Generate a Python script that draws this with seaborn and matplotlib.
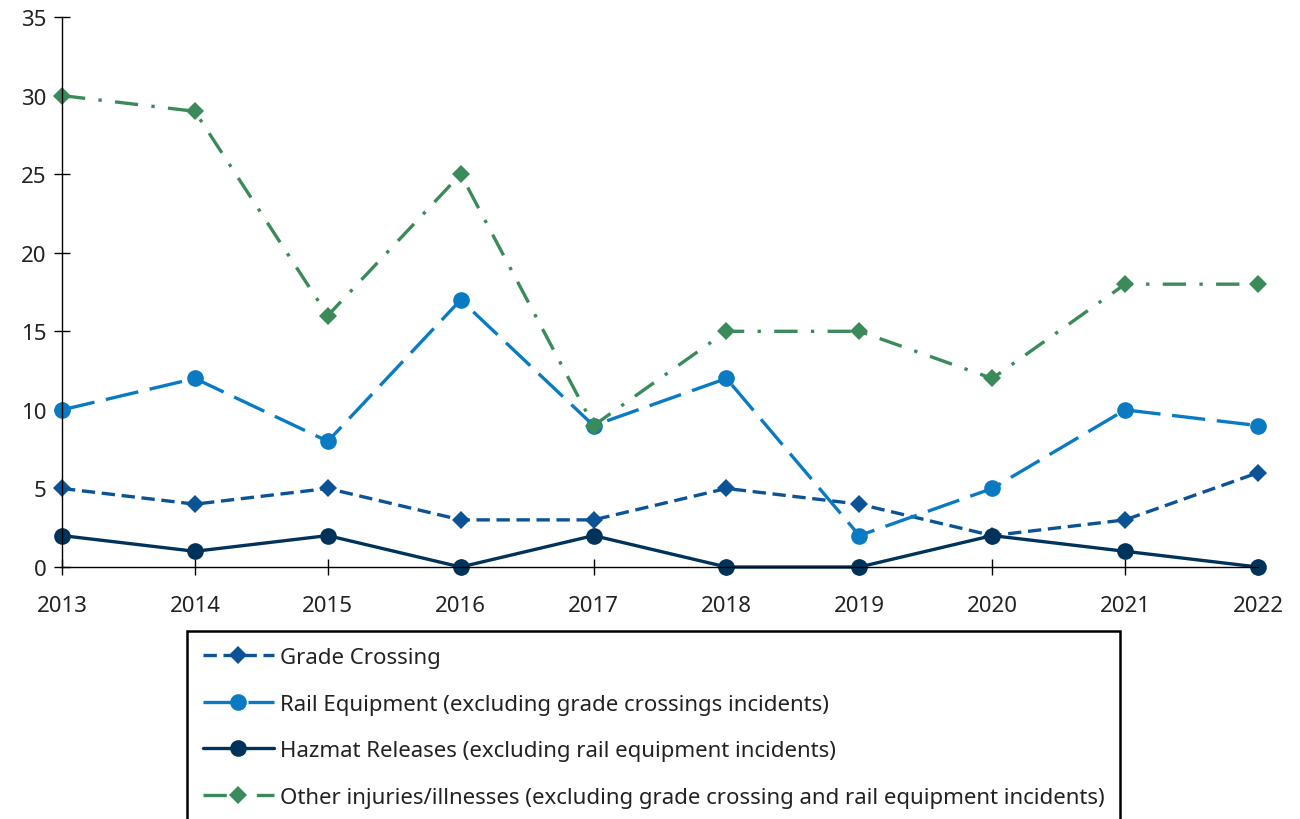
import matplotlib
matplotlib.use("Agg")
import matplotlib.pyplot as plt
import seaborn as sns

# data
years = [2013, 2014, 2015, 2016, 2017, 2018, 2019, 2020, 2021, 2022]
grade_crossing = [5, 4, 5, 3, 3, 5, 4, 2, 3, 6]
rail_equipment = [10, 12, 8, 17, 9, 12, 2, 5, 10, 9]
hazmat = [2, 1, 2, 0, 2, 0, 0, 2, 1, 0]
other = [30, 29, 16, 25, 9, 15, 15, 12, 18, 18]

labels = [
    "Grade Crossing",
    "Rail Equipment (excluding grade crossings incidents)",
    "Hazmat Releases (excluding rail equipment incidents)",
    "Other injuries/illnesses (excluding grade crossing and rail equipment incidents)",
]

sns.set_style("white")
plt.rcParams['font.family'] = ['Noto Sans', 'DejaVu Sans']

fig = plt.figure(figsize=(13, 8.2), dpi=100)
ax = fig.add_axes([0.0477, 0.3073, 0.92, 0.6707])

series = [
    (grade_crossing, "#0B5394", "D", 9, (0, (4, 2))),
    (rail_equipment, "#0A7BC2", "o", 12, (0, (10, 3.5))),
    (hazmat, "#00335A", "o", 12, "-"),
    (other, "#3A8A5A", "D", 9, (0, (7, 4, 1, 4))),
]

for (vals, col, mk, ms, ls), lab in zip(series, labels):
    sns.lineplot(x=years, y=vals, ax=ax, color=col, marker=mk, markersize=ms,
                 markeredgecolor=col, markeredgewidth=0, linewidth=2.4,
                 linestyle=ls, label=lab, clip_on=False)

ax.set_xlim(2013, 2022)
ax.set_ylim(0, 35)
ax.set_xticks(years)
ax.set_yticks(range(0, 36, 5))
ax.tick_params(axis='both', bottom=True, left=True, direction='inout',
               length=12, width=1, color='black', labelsize=16,
               labelcolor='#222222')
ax.tick_params(axis='x', pad=14)
ax.tick_params(axis='y', pad=5)
for side in ['top', 'right']:
    ax.spines[side].set_visible(False)
for side in ['left', 'bottom']:
    ax.spines[side].set_color('black')
    ax.spines[side].set_linewidth(1)
ax.set_xlabel("")
ax.set_ylabel("")

leg = ax.legend(loc='upper left', bbox_to_anchor=(0.1438, 0.2293),
                bbox_transform=fig.transFigure, fontsize=16, frameon=True,
                fancybox=False, edgecolor='black', framealpha=1,
                handlelength=3.2, labelspacing=1.15, borderpad=0.72,
                handletextpad=0.25, borderaxespad=0)
leg.get_frame().set_linewidth(1.8)
for t in leg.get_texts():
    t.set_color('#222222')

fig.savefig("out.png", dpi=100)
